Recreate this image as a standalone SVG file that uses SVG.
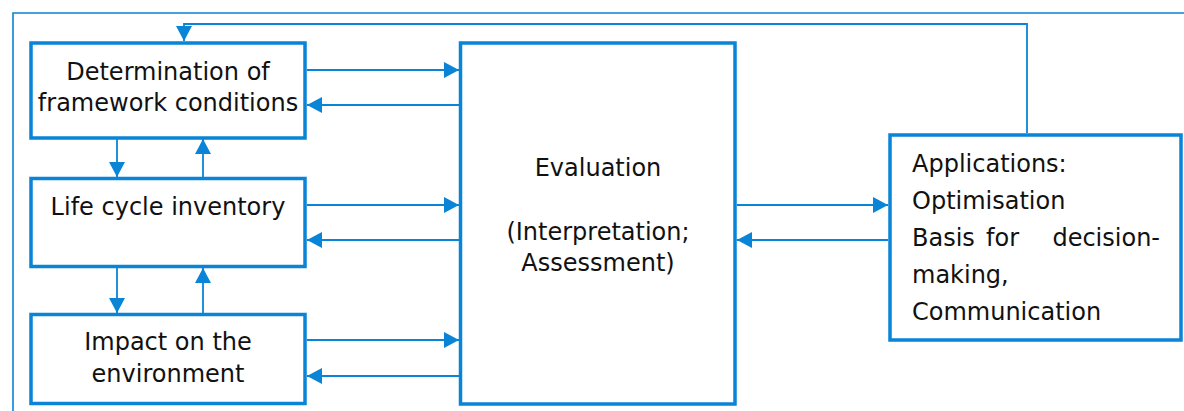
<svg xmlns="http://www.w3.org/2000/svg" width="1184" height="411" viewBox="0 0 1184 411">
<style>
.box{fill:#fff;stroke:#0984d6;stroke-width:3.5}
.ln{fill:none;stroke:#0984d6;stroke-width:1.8}
.fr{fill:none;stroke:#0984d6;stroke-width:1.6}
text{font-family:"DejaVu Sans","Noto Sans",sans-serif;font-size:24px;fill:#111}
.c{text-anchor:middle}
</style>
<defs>
<marker id="ah" viewBox="0 0 15 16" markerWidth="15" markerHeight="16" refX="15" refY="8" orient="auto" markerUnits="userSpaceOnUse">
<path d="M0,0 L15,8 L0,16 Z" fill="#0984d6"/>
</marker>
</defs>
<rect width="1184" height="411" fill="#fff"/>
<g id="frame">
<path class="fr" d="M13,411 V13 H1184"/>
</g>
<g id="connectors">
<path class="ln" d="M1027,133 V24 H184 V41" marker-end="url(#ah)"/>
<path class="ln" d="M117,139 V177" marker-end="url(#ah)"/>
<path class="ln" d="M203,177 V139" marker-end="url(#ah)"/>
<path class="ln" d="M117,268 V313" marker-end="url(#ah)"/>
<path class="ln" d="M203,313 V268" marker-end="url(#ah)"/>
<path class="ln" d="M307,70 H459" marker-end="url(#ah)"/>
<path class="ln" d="M459,105 H307" marker-end="url(#ah)"/>
<path class="ln" d="M307,205 H459" marker-end="url(#ah)"/>
<path class="ln" d="M459,240 H307" marker-end="url(#ah)"/>
<path class="ln" d="M307,340 H459" marker-end="url(#ah)"/>
<path class="ln" d="M459,376 H307" marker-end="url(#ah)"/>
<path class="ln" d="M737,205 H888" marker-end="url(#ah)"/>
<path class="ln" d="M888,240 H737" marker-end="url(#ah)"/>
</g>
<g id="framework">
<rect class="box" x="31" y="43" width="274" height="95"/>
<text class="c" x="168" y="80">Determination of</text>
<text class="c" x="168" y="111">framework conditions</text>
</g>
<g id="inventory">
<rect class="box" x="31" y="178.5" width="274" height="88"/>
<text class="c" x="168" y="215">Life cycle inventory</text>
</g>
<g id="impact">
<rect class="box" x="31" y="314.5" width="274" height="89"/>
<text class="c" x="168" y="350">Impact on the</text>
<text class="c" x="168" y="382">environment</text>
</g>
<g id="evaluation">
<rect class="box" x="460.5" y="43" width="274.5" height="361"/>
<text class="c" x="598" y="176">Evaluation</text>
<text class="c" x="598" y="240">(Interpretation;</text>
<text class="c" x="598" y="271">Assessment)</text>
</g>
<g id="applications">
<rect class="box" x="890" y="135" width="291" height="205"/>
<text x="912" y="172">Applications:</text>
<text x="912" y="209">Optimisation</text>
<text y="246"><tspan x="912">Basis</tspan><tspan x="986">for</tspan><tspan x="1160" text-anchor="end">decision-</tspan></text>
<text x="912" y="283">making,</text>
<text x="912" y="320">Communication</text>
</g>
</svg>
